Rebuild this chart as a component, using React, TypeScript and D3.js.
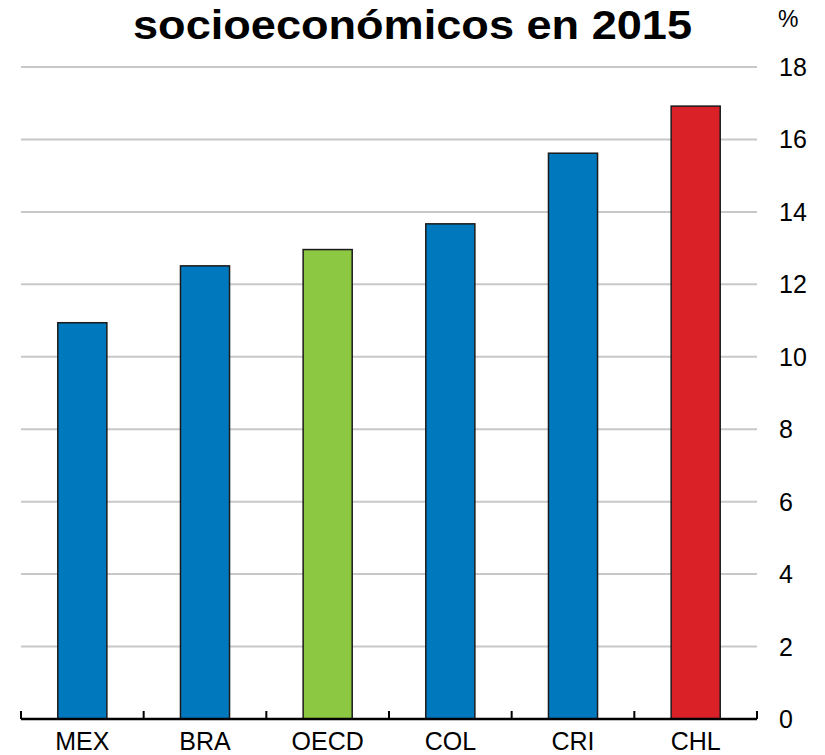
import React from "react";
import * as d3 from "d3";

const categories = ["MEX", "BRA", "OECD", "COL", "CRI", "CHL"];
const values = [10.94, 12.51, 12.96, 13.67, 15.62, 16.92];
const barColors = ["#0078BE", "#0078BE", "#8CC841", "#0078BE", "#0078BE", "#DA2128"];
const yTicks = [0, 2, 4, 6, 8, 10, 12, 14, 16, 18];
const titleText = "socioeconómicos en 2015";
const unitLabel = "%";

export default function App() {
  const W = 825, H = 755;
  const x = d3.scaleBand<string>().domain(categories).range([21, 757]).paddingInner(0.6).paddingOuter(0.3);
  const xb = d3.scaleBand<string>().domain(categories).range([21, 757]);
  const y = d3.scaleLinear().domain([0, 18]).range([719, 67]);
  const font = "'Liberation Sans', Arial, sans-serif";
  const boundaries = categories.map((c) => xb(c) as number).concat([757]);
  return (
    <svg width={W} height={H} style={{ position: "absolute", left: 0, top: 0, background: "#fff" }}>
      <rect width={W} height={H} fill="#fff" />
      <text x={133} y={38.5} fontFamily={font} fontWeight="bold" fontSize={41.5} textLength={559} lengthAdjust="spacingAndGlyphs" fill="#000">
        {titleText}
      </text>
      <text x={778} y={27} fontFamily={font} fontSize={23} fill="#000">{unitLabel}</text>
      {yTicks.filter((t) => t > 0).map((t) => (
        <line key={t} x1={21} x2={757} y1={y(t)} y2={y(t)} stroke="#C8C8C8" strokeWidth={2} />
      ))}
      {yTicks.map((t) => (
        <text key={t} x={779} y={y(t)} dy="0.36em" fontFamily={font} fontSize={25} fill="#000">{t}</text>
      ))}
      {categories.map((c, i) => (
        <rect
          key={c}
          x={x(c)}
          y={y(values[i])}
          width={x.bandwidth()}
          height={y(0) - y(values[i])}
          fill={barColors[i]}
          stroke="#1a1a1a"
          strokeWidth={1.5}
        />
      ))}
      <line x1={21} x2={757} y1={y(0)} y2={y(0)} stroke="#000" strokeWidth={2.5} />
      {boundaries.map((b, i) => (
        <line key={i} x1={b} x2={b} y1={y(0)} y2={y(0) - 8} stroke="#000" strokeWidth={2} />
      ))}
      {categories.map((c) => (
        <text key={c} x={(xb(c) as number) + xb.bandwidth() / 2} y={750} textAnchor="middle" fontFamily={font} fontSize={25} fill="#000">
          {c}
        </text>
      ))}
    </svg>
  );
}
